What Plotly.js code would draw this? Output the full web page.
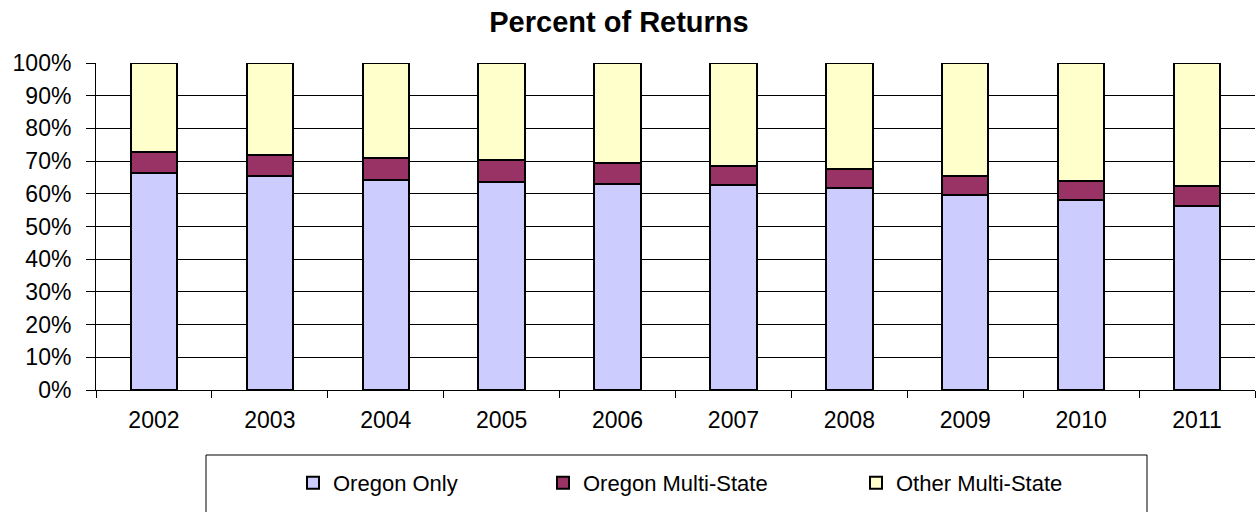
<!DOCTYPE html>
<html>
<head>
<meta charset="utf-8">
<script src="https://cdn.plot.ly/plotly-3.0.1.min.js"></script>
<style>
  html, body { margin: 0; padding: 0; background: #fff; }
  #chart { width: 1258px; height: 512px; }
</style>
</head>
<body>
<div id="chart"></div>
<script>
const years = ["2002", "2003", "2004", "2005", "2006", "2007", "2008", "2009", "2010", "2011"];
const oregonOnly = [66.5, 65.5, 64.2, 63.5, 63.1, 62.7, 61.7, 59.5, 58.1, 56.4];
const oregonMultiState = [6.3, 6.5, 6.9, 6.8, 6.3, 5.8, 6.0, 5.8, 5.8, 5.9];
const otherMultiState = [27.2, 28.0, 28.9, 29.7, 30.6, 31.5, 32.3, 34.7, 36.1, 37.7];
const seriesNames = ["Oregon Only", "Oregon Multi-State", "Other Multi-State"];
const yTickVals = [0, 10, 20, 30, 40, 50, 60, 70, 80, 90, 100];

const FONT = "'Liberation Sans', Arial, sans-serif";
const barLine = { color: "#000000", width: 2 };

const traces = [
  { type: "bar", name: seriesNames[0], x: years, y: oregonOnly,
    marker: { color: "#CCCCFF", line: barLine }, legend: "legend" },
  { type: "bar", name: seriesNames[1], x: years, y: oregonMultiState,
    marker: { color: "#993366", line: barLine }, legend: "legend2" },
  { type: "bar", name: seriesNames[2], x: years, y: otherMultiState,
    marker: { color: "#FFFFCC", line: barLine }, legend: "legend3" }
];

const legendCommon = {
  orientation: "h",
  yanchor: "middle",
  xanchor: "left",
  y: -0.2844,
  bgcolor: "rgba(0,0,0,0)",
  borderwidth: 0,
  font: { family: FONT, size: 22, color: "#000" }
};

const layout = {
  width: 1258,
  height: 512,
  paper_bgcolor: "#ffffff",
  plot_bgcolor: "#ffffff",
  margin: { l: 96, r: 3, t: 63, b: 122 },
  font: { family: FONT, color: "#000" },
  title: {
    text: "<b>Percent of Returns</b>",
    font: { family: FONT, size: 29, color: "#000" },
    xref: "container", x: 619 / 1258, xanchor: "center",
    yref: "container", y: 1 - 22 / 512, yanchor: "middle"
  },
  barmode: "stack",
  bargap: 0.6,
  xaxis: {
    type: "category",
    showline: true, linecolor: "#000", linewidth: 1,
    ticks: "outside", tickson: "boundaries", ticklen: 7, tickcolor: "#000",
    ticklabelstandoff: 9,
    tickfont: { family: FONT, size: 23, color: "#000" },
    showgrid: false, zeroline: false
  },
  yaxis: {
    range: [0, 100],
    tickvals: yTickVals,
    ticktext: yTickVals.map(v => v + "%"),
    showline: true, linecolor: "#000", linewidth: 1,
    ticks: "outside", ticklen: 9, tickcolor: "#000",
    ticklabelstandoff: 10,
    tickfont: { family: FONT, size: 23, color: "#000" },
    showgrid: true, gridcolor: "#000", gridwidth: 1,
    zeroline: false, fixedrange: true
  },
  showlegend: true,
  legend: Object.assign({}, legendCommon, { x: (293 - 96) / 1159 }),
  legend2: Object.assign({}, legendCommon, { x: (543 - 96) / 1159 }),
  legend3: Object.assign({}, legendCommon, { x: (856 - 96) / 1159 }),
  shapes: [{
    type: "rect", xref: "paper", yref: "paper",
    x0: (206 - 96) / 1159, x1: (1147 - 96) / 1159,
    y0: (390 - 530) / 327, y1: (390 - 455) / 327,
    line: { color: "#000", width: 1 }, fillcolor: "rgba(0,0,0,0)",
    layer: "above"
  }]
};

Plotly.newPlot("chart", traces, layout, { displayModeBar: false, staticPlot: true });
</script>
</body>
</html>
